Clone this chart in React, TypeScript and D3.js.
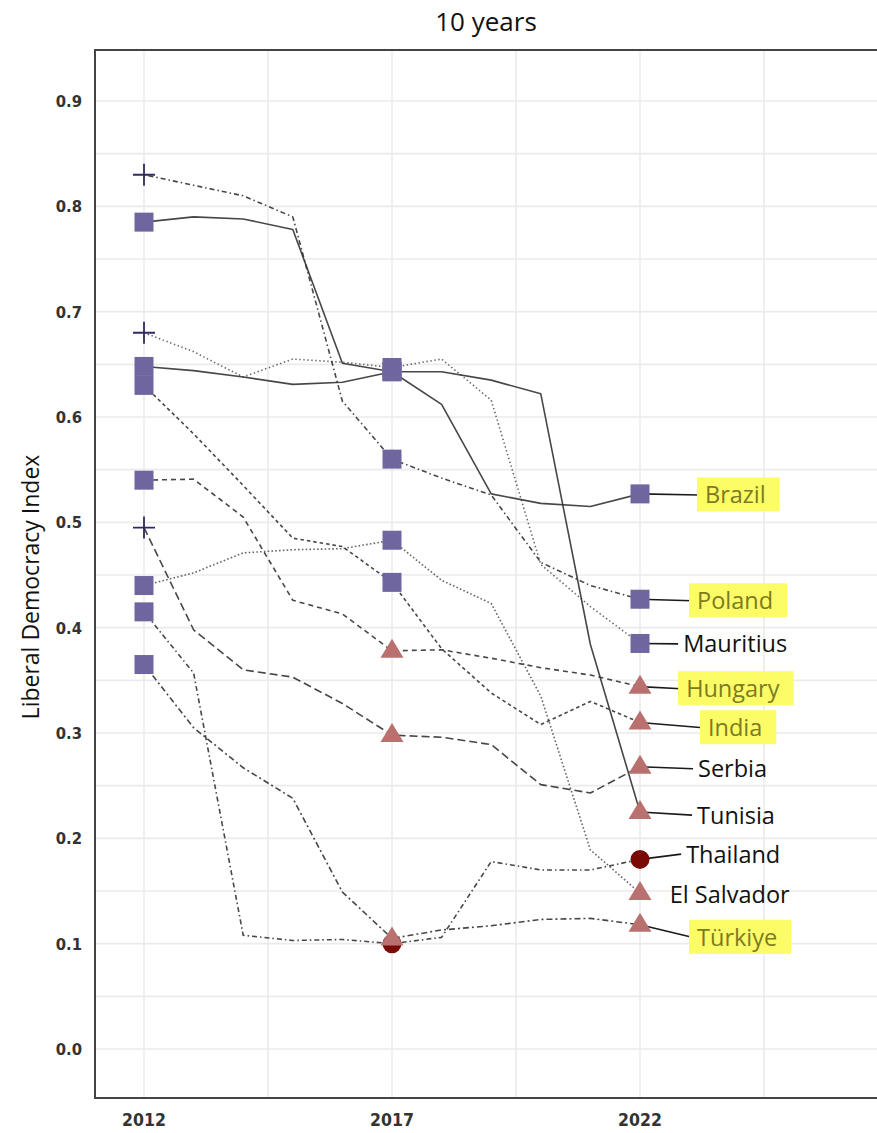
import React, { useEffect, useRef } from 'react';
import * as d3 from 'd3';

const years = [2012, 2013, 2014, 2015, 2016, 2017, 2018, 2019, 2020, 2021, 2022];
const countries = ['Brazil', 'Poland', 'Mauritius', 'Hungary', 'India', 'Serbia', 'Tunisia', 'Thailand', 'El Salvador', 'Türkiye'];

const brazil = [0.785, 0.79, 0.788, 0.778, 0.651, 0.643, 0.612, 0.527, 0.518, 0.515, 0.527];
const poland = [0.83, 0.82, 0.81, 0.79, 0.615, 0.56, 0.542, 0.526, 0.462, 0.44, 0.427];
const mauritius = [0.68, 0.662, 0.638, 0.655, 0.652, 0.647, 0.655, 0.616, 0.46, 0.42, 0.385];
const hungary = [0.54, 0.541, 0.505, 0.426, 0.413, 0.378, 0.379, 0.371, 0.362, 0.355, 0.344];
const india = [0.63, 0.584, 0.535, 0.485, 0.477, 0.443, 0.38, 0.338, 0.308, 0.33, 0.31];
const serbia = [0.495, 0.398, 0.36, 0.353, 0.328, 0.298, 0.296, 0.289, 0.251, 0.243, 0.268];
const tunisia = [0.648, 0.644, 0.638, 0.631, 0.633, 0.643, 0.643, 0.635, 0.622, 0.384, 0.225];
const thailand = [0.415, 0.357, 0.108, 0.103, 0.104, 0.1, 0.106, 0.178, 0.17, 0.17, 0.18];
const elSalvador = [0.44, 0.452, 0.471, 0.474, 0.475, 0.483, 0.445, 0.423, 0.335, 0.189, 0.148];
const turkiye = [0.365, 0.305, 0.267, 0.238, 0.149, 0.105, 0.113, 0.117, 0.123, 0.124, 0.118];
const seriesValues = [brazil, poland, mauritius, hungary, india, serbia, tunisia, thailand, elSalvador, turkiye];

// regime type at the marked years: L = liberal democracy, E = electoral democracy,
// A = electoral autocracy, C = closed autocracy
const markerYears = [2012, 2017, 2022];
const regimes2012 = ['E', 'L', 'L', 'E', 'E', 'L', 'E', 'E', 'E', 'E'];
const regimes2017 = ['E', 'E', 'E', 'A', 'E', 'A', 'E', 'C', 'E', 'A'];
const regimes2022 = ['E', 'E', 'E', 'A', 'A', 'A', 'A', 'C', 'A', 'A'];
const regimesByYear = [regimes2012, regimes2017, regimes2022];

const lineTypes = ['solid', 'dotdash', 'dotted', 'dashed', 'dashed2', 'longdash', 'solid', 'dotdash', 'dotted2', 'twodash'];

const highlighted = ['Brazil', 'Poland', 'Hungary', 'India', 'Türkiye'];
const labelYears = [2023.31, 2023.15, 2022.87, 2022.93, 2023.37, 2023.17, 2023.15, 2022.93, 2022.6, 2023.15];
const labelValues = [0.526, 0.4255, 0.3846, 0.342, 0.305, 0.266, 0.222, 0.185, 0.147, 0.106];
const hasConnector = [true, true, true, true, true, true, true, true, false, true];

const yTicks = [0, 0.1, 0.2, 0.3, 0.4, 0.5, 0.6, 0.7, 0.8, 0.9];
const yGrid = d3.range(0, 0.91, 0.05);
const xTicks = [2012, 2017, 2022];
const xGrid = [2012, 2014.5, 2017, 2019.5, 2022, 2024.5];
const title = '10 years';
const yTitle = 'Liberal Democracy Index';

const dashMap: Record<string, string | null> = {
  solid: null,
  dashed: '5 4',
  dashed2: '3.5 3',
  dotted: '1.4 2.6',
  dotted2: '1.6 2.2',
  dotdash: '1.5 3 5 3',
  longdash: '8 4',
  twodash: '6 3 2 3',
};

const regimeColor: Record<string, string> = {
  L: '#2f2a5f',
  E: '#6f66a0',
  A: '#b8716f',
  C: '#7a0a06',
};

export default function App() {
  const ref = useRef<SVGSVGElement>(null);

  useEffect(() => {
    const svg = d3.select(ref.current);
    svg.selectAll('*').remove();

    const W = 877, H = 1133;
    const panel = { left: 95, right: W, top: 50, bottom: 1098 };
    const x = d3.scaleLinear().domain([2012, 2022]).range([144, 640]);
    const y = d3.scaleLinear().domain([0, 0.9]).range([1049, 101]);

    svg.append('rect').attr('width', W).attr('height', H).attr('fill', '#fff');

    // grid
    const grid = svg.append('g');
    grid.selectAll('line.h').data(yGrid).enter().append('line')
      .attr('x1', panel.left).attr('x2', panel.right)
      .attr('y1', d => y(d)).attr('y2', d => y(d))
      .attr('stroke', '#ebebeb').attr('stroke-width', 1.6);
    grid.selectAll('line.v').data(xGrid).enter().append('line')
      .attr('x1', d => x(d)).attr('x2', d => x(d))
      .attr('y1', panel.top).attr('y2', panel.bottom)
      .attr('stroke', '#ebebeb').attr('stroke-width', 1.6);

    // border
    svg.append('path')
      .attr('d', `M${panel.right},${panel.top} H${panel.left} V${panel.bottom} H${panel.right}`)
      .attr('fill', 'none').attr('stroke', '#444').attr('stroke-width', 2);

    // lines
    const line = d3.line<number>().x((_, i) => x(years[i])).y(d => y(d));
    const lg = svg.append('g');
    seriesValues.forEach((vals, ci) => {
      const dash = dashMap[lineTypes[ci]];
      const p = lg.append('path').attr('d', line(vals) as string)
        .attr('fill', 'none').attr('stroke', '#333').attr('stroke-width', 1.6)
        .attr('stroke-opacity', lineTypes[ci].startsWith('dotted') ? 0.75 : 0.9)
        .attr('stroke-linejoin', 'round');
      if (dash) p.attr('stroke-dasharray', dash);
    });

    // connectors
    const cg = svg.append('g');
    countries.forEach((c, ci) => {
      if (!hasConnector[ci]) return;
      cg.append('line')
        .attr('x1', x(2022)).attr('y1', y(seriesValues[ci][10]))
        .attr('x2', x(labelYears[ci]) - 5).attr('y2', y(labelValues[ci]))
        .attr('stroke', '#1a1a1a').attr('stroke-width', 1.6);
    });

    // markers
    const mg = svg.append('g');
    markerYears.forEach((yr, mi) => {
      const idx = years.indexOf(yr);
      countries.forEach((c, ci) => {
        const reg = regimesByYear[mi][ci];
        const cx = x(yr), cy = y(seriesValues[ci][idx]);
        const col = regimeColor[reg];
        if (reg === 'L') {
          mg.append('path').attr('d', `M${cx - 11},${cy} H${cx + 11} M${cx},${cy - 11} V${cy + 11}`)
            .attr('stroke', col).attr('stroke-width', 1.8).attr('fill', 'none');
        } else if (reg === 'E') {
          mg.append('rect').attr('x', cx - 9.5).attr('y', cy - 9.5).attr('width', 19).attr('height', 19)
            .attr('fill', col);
        } else if (reg === 'A') {
          mg.append('path').attr('d', `M${cx},${cy - 12} L${cx + 11.5},${cy + 7} L${cx - 11.5},${cy + 7} Z`)
            .attr('fill', col);
        } else {
          mg.append('circle').attr('cx', cx).attr('cy', cy).attr('r', 9.5).attr('fill', col);
        }
      });
    });

    // labels
    const tg = svg.append('g');
    countries.forEach((c, ci) => {
      const isHi = highlighted.includes(c);
      const g = tg.append('g');
      const t = g.append('text')
        .attr('x', x(labelYears[ci])).attr('y', y(labelValues[ci]))
        .attr('dy', '0.36em')
        .attr('font-family', "'Open Sans', sans-serif").attr('font-size', 23.5)
        .attr('fill', isHi ? '#7c7a22' : '#111')
        .text(c);
      if (isHi) {
        const bb = (t.node() as SVGTextElement).getBBox();
        g.insert('rect', 'text')
          .attr('x', bb.x - 8).attr('y', bb.y - 1)
          .attr('width', bb.width + 22).attr('height', bb.height + 2)
          .attr('fill', '#fcfc66');
      }
    });

    // axes text
    const tickFont = "'Liberation Sans Narrow', 'DejaVu Sans Condensed', sans-serif";
    svg.append('g').selectAll('text').data(yTicks).enter().append('text')
      .attr('x', 82).attr('y', d => y(d)).attr('dy', '0.36em')
      .attr('text-anchor', 'end').attr('font-family', tickFont).attr('font-weight', 'bold')
      .attr('font-size', 16.5).attr('fill', '#333')
      .text(d => d3.format('.1f')(d));
    svg.append('g').selectAll('text').data(xTicks).enter().append('text')
      .attr('x', d => x(d)).attr('y', 1126)
      .attr('text-anchor', 'middle').attr('font-family', tickFont).attr('font-weight', 'bold')
      .attr('font-size', 17.5).attr('fill', '#333')
      .text(d => String(d));

    svg.append('text').attr('x', 486).attr('y', 31).attr('text-anchor', 'middle')
      .attr('font-family', "'Open Sans', sans-serif").attr('font-size', 26).attr('fill', '#111')
      .text(title);

    svg.append('text').attr('transform', 'translate(39,587) rotate(-90)')
      .attr('text-anchor', 'middle')
      .attr('font-family', "'Open Sans', sans-serif").attr('font-size', 23).attr('fill', '#111')
      .text(yTitle);
  }, []);

  return (
    <svg ref={ref} width={877} height={1133}
      style={{ position: 'absolute', left: 0, top: 0, display: 'block' }} />
  );
}
